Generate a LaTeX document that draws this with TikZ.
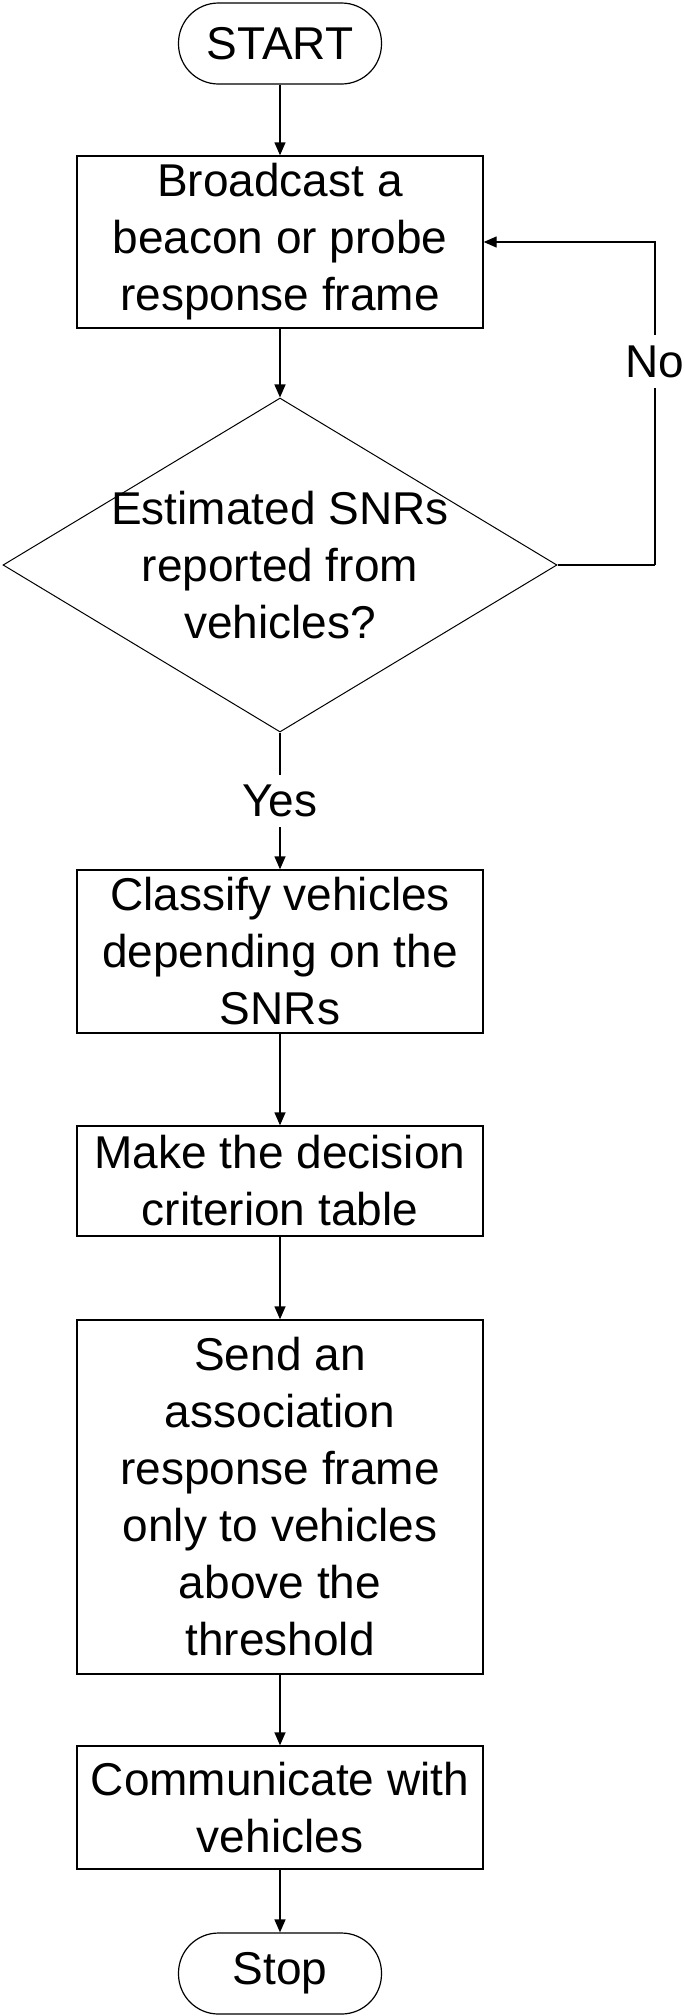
\documentclass[tikz,border=0pt]{standalone}
\usepackage{fontspec}
\setmainfont{Liberation Sans}
\usetikzlibrary{arrows.meta}
\usetikzlibrary{shapes.geometric}

\tikzset{
    process/.style={draw, line width=1.4pt, minimum width=406pt, inner sep=0pt, align=center},
    terminal/.style={draw, line width=1.2pt, rounded corners=40pt, minimum width=203pt, minimum height=81pt, inner sep=0pt},
    decision/.style={draw, diamond, line width=1pt, minimum width=554pt, minimum height=334pt, inner sep=0pt},
    flow/.style={line width=1.4pt, -{Triangle[length=13pt, width=11pt]}},
    answer/.style={fill=white, inner sep=10pt},
}

\begin{document}
\begin{tikzpicture}[x=1pt, y=-1pt, font=\fontsize{46}{57}\selectfont]
    \useasboundingbox (0,0) rectangle (685,2016);

    \node[terminal] (start) at (280,43.5) {START};
    \node[process, minimum height=172pt] (bcast) at (280,242) {Broadcast a\\beacon or probe\\response frame};
    \node[decision] (check) at (280,565) {};
    \node[align=center] (checktext) at (check) {Estimated SNRs\\reported from\\vehicles?};
    \node[process, minimum height=163pt] (classify) at (280,951.5) {Classify vehicles\\depending on the\\SNRs};
    \node[process, minimum height=110pt] (table) at (280,1181) {Make the decision\\criterion table};
    \node[process, minimum height=354pt] (assoc) at (280,1497) {Send an\\association\\response frame\\only to vehicles\\above the\\threshold};
    \node[process, minimum height=123pt] (comm) at (280,1807.5) {Communicate with\\vehicles};
    \node[terminal] (stop) at (280,1973.5) {Stop};
    \coordinate (loop) at (655,565);

    \draw[flow] (start) -- (bcast);
    \draw[flow] (bcast) -- (check);
    \draw[flow] (check) -- node[answer] {Yes} (classify);
    \draw[line width=1.4pt] (check.east) -- (loop);
    \draw[flow] (loop) |- node[answer, pos=0.315] {No} (bcast.east);
    \draw[flow] (classify) -- (table);
    \draw[flow] (table) -- (assoc);
    \draw[flow] (assoc) -- (comm);
    \draw[flow] (comm) -- (stop);
\end{tikzpicture}
\end{document}
